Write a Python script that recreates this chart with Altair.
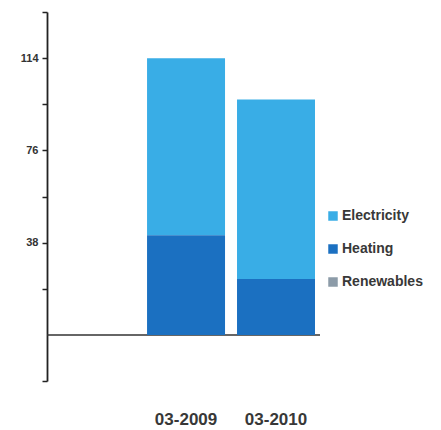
import altair as alt
import pandas as pd

# Monthly energy consumption by source, March 2009 vs March 2010
periods = ["03-2009", "03-2010"]
sources = ["Electricity", "Heating", "Renewables"]
electricity = [73, 74]
heating = [41, 23]
renewables = [0, 0]
colors = ["#39ADE6", "#1B70C1", "#8C9BA8"]
y_ticks = [-19, 19, 38, 57, 76, 95, 114, 133]
y_labelled = [38, 76, 114]

rows = []
for i, p in enumerate(periods):
    for s, vals, order in zip(sources, [electricity, heating, renewables], [2, 1, 3]):
        rows.append({"period": p, "source": s, "value": vals[i], "order": order})
df = pd.DataFrame(rows)

FONT = "Liberation Sans"
W, H = 268, 369

x_scale = alt.Scale(domain=periods, paddingInner=0.1333, paddingOuter=0.556, align=1)
y_scale = alt.Scale(domain=[-19, 133], nice=False, zero=False)

label_test = " || ".join(f"datum.value == {v}" for v in y_labelled)

bars = alt.Chart(df).mark_bar().encode(
    x=alt.X("period:N", scale=x_scale, sort=periods,
            axis=alt.Axis(title=None, domain=False, ticks=False, labelAngle=0,
                          labelFont=FONT, labelFontWeight="bold", labelFontSize=17,
                          labelColor="#383838", labelPadding=30)),
    y=alt.Y("value:Q", stack="zero", scale=y_scale,
            axis=alt.Axis(title=None, values=y_ticks, grid=False,
                          domainColor="#222222", domainWidth=1.8,
                          tickColor="#222222", tickWidth=1.5, tickSize=5,
                          labelFont=FONT, labelFontWeight="bold", labelFontSize=11,
                          labelColor="#333333", labelPadding=4,
                          labelExpr=f"({label_test}) ? datum.label : ''")),
    color=alt.Color("source:N", scale=alt.Scale(domain=sources, range=colors),
                    legend=alt.Legend(title=None, orient="none", legendX=279, legendY=197,
                                      symbolType="square", symbolSize=90,
                                      symbolStrokeWidth=0, rowPadding=19,
                                      labelFont=FONT, labelFontWeight="bold",
                                      labelFontSize=14, labelColor="#383838",
                                      labelOffset=2)),
    order=alt.Order("order:Q"),
)

zero_line = alt.Chart(pd.DataFrame({"v": [0]})).mark_rule(
    color="#333333", strokeWidth=1.5
).encode(
    y=alt.Y("v:Q", scale=y_scale),
    x=alt.value(0),
    x2=alt.value(273),
)

chart = alt.layer(zero_line, bars).properties(
    width=W, height=H,
    background="white",
    autosize=alt.AutoSizeParams(type="none"),
    padding={"left": 47, "top": 12, "right": 441 - 47 - W, "bottom": 430 - 12 - H},
).configure_view(strokeWidth=0, stroke="transparent")

chart.save("out.html", embed_options={"renderer": "svg", "actions": False})
